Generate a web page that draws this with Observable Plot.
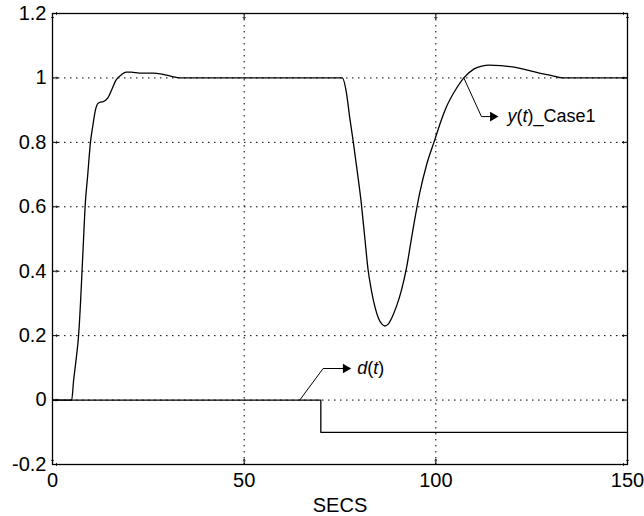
<!DOCTYPE html>
<html><head><meta charset="utf-8">
<script src="https://cdn.jsdelivr.net/npm/d3@7"></script>
<script src="https://cdn.jsdelivr.net/npm/@observablehq/plot@0.6"></script>
<style>body{margin:0;background:#fff}</style>
</head><body><div id="chart"></div>
<script>
const yTime = [0,5.0,5.5,6.2,6.8,7.3,7.7,8.1,8.5,9.2,9.9,10.5,11.2,11.8,12.5,13.1,14.4,15.5,16.6,18.0,19.2,20.5,22.7,26.2,28.8,31,33.2,50,75.6,76.7,77.5,78.4,79.5,80.6,81.5,82.3,83.2,84.1,85.0,86,86.7,87.5,88.5,89.7,91,92.3,93.9,95.8,97.7,99.7,101.3,102.8,105.4,107.3,110,112,114,117,122,127,130,133,150];
const yVals = [0,0,0.06,0.13,0.2,0.3,0.4,0.5,0.6,0.7,0.8,0.85,0.9,0.92,0.925,0.926,0.937,0.965,0.994,1.01,1.018,1.018,1.015,1.015,1.011,1.005,1.0,1.0,1.0,0.952,0.88,0.807,0.71,0.606,0.5,0.407,0.34,0.29,0.255,0.235,0.23,0.235,0.255,0.29,0.34,0.407,0.52,0.643,0.735,0.807,0.865,0.911,0.968,1.0,1.028,1.037,1.04,1.038,1.03,1.015,1.008,1.0,1.0];
const dTime = [0,70,150];
const dVals = [0,-0.1,-0.1];
const xTicks = [0,50,100,150];
const yTicks = [-0.2,0,0.2,0.4,0.6,0.8,1,1.2];
const xGrid = [50,100];
const yGrid = [0,0.2,0.4,0.6,0.8,1];
const dLeaderX = [64.5,70.6,77.0];
const dLeaderY = [0,0.098,0.098];
const yLeaderX = [107.3,111.9,115.4];
const yLeaderY = [1.0,0.88,0.88];
const labels = [
  {x:79.6, y:0.098, parts:["d","(","t",")"]},
  {x:118.8, y:0.88, parts:["y","(","t",")_Case1"]}
];

const yData = yTime.map((t,i)=>({t, v:yVals[i]}));
const dData = dTime.map((t,i)=>({t, v:dVals[i]}));
const dLead = dLeaderX.map((x,i)=>({x, y:dLeaderY[i]}));
const yLead = yLeaderX.map((x,i)=>({x, y:yLeaderY[i]}));
const heads = [dLead[dLead.length-1], yLead[yLead.length-1]];

const font = "'Liberation Sans', Arial, sans-serif";
const tickStyle = {stroke:"#000", strokeWidth:1, length:5, anchor:"start"};
const chart = Plot.plot({
  width: 644, height: 516,
  marginLeft: 52, marginRight: 17, marginTop: 13, marginBottom: 52,
  style: {fontFamily: font, fontSize: "20px", color: "#000", background: "#fff"},
  x: {domain: [0,150]},
  y: {domain: [-0.2,1.2]},
  marks: [
    Plot.ruleX(xGrid, {stroke:"#000", strokeDasharray:"1.5,4.5", strokeWidth:1}),
    Plot.ruleY(yGrid, {stroke:"#000", strokeDasharray:"1.5,4.5", strokeWidth:1}),
    Plot.vector(xTicks, {x:d=>d, frameAnchor:"bottom", rotate:0, ...tickStyle}),
    Plot.vector(xTicks, {x:d=>d, frameAnchor:"top", rotate:180, ...tickStyle}),
    Plot.vector(yTicks, {y:d=>d, frameAnchor:"left", rotate:90, ...tickStyle}),
    Plot.vector(yTicks, {y:d=>d, frameAnchor:"right", rotate:270, ...tickStyle}),
    Plot.line(dData, {x:"t", y:"v", curve:"step-after", stroke:"#000", strokeWidth:1.3}),
    Plot.line(yData, {x:"t", y:"v", curve:"monotone-x", stroke:"#000", strokeWidth:1.3}),
    Plot.line(dLead, {x:"x", y:"y", stroke:"#000", strokeWidth:1}),
    Plot.line(yLead, {x:"x", y:"y", stroke:"#000", strokeWidth:1}),
    Plot.dot(heads, {x:"x", y:"y", symbol:"triangle", rotate:90, r:3.6, fill:"#000", stroke:"none", dx:-2}),
    Plot.frame({stroke:"#000", strokeWidth:1.3}),
    Plot.axisX({ticks:xTicks, tickSize:0, tickPadding:8, tickFormat:d=>String(d), label:"SECS", labelAnchor:"center", labelArrow:"none", labelOffset:47, fontSize:20}),
    Plot.axisY({ticks:yTicks, tickSize:0, tickPadding:6, tickFormat:d=>String(d), label:null, fontSize:20})
  ]
});
document.getElementById("chart").appendChild(chart);

const svg = d3.select(chart);
const sx = chart.scale("x"), sy = chart.scale("y");
labels.forEach(l=>{
  const txt = svg.append("text")
    .attr("x", sx.apply(l.x)).attr("y", sy.apply(l.y))
    .attr("dy","0.35em").attr("text-anchor","start")
    .attr("font-size","18px").attr("font-family",font).attr("fill","#000");
  l.parts.forEach(p=>{
    txt.append("tspan").text(p).attr("font-style", (p==="d"||p==="y"||p==="t")?"italic":"normal");
  });
});
</script></body></html>
